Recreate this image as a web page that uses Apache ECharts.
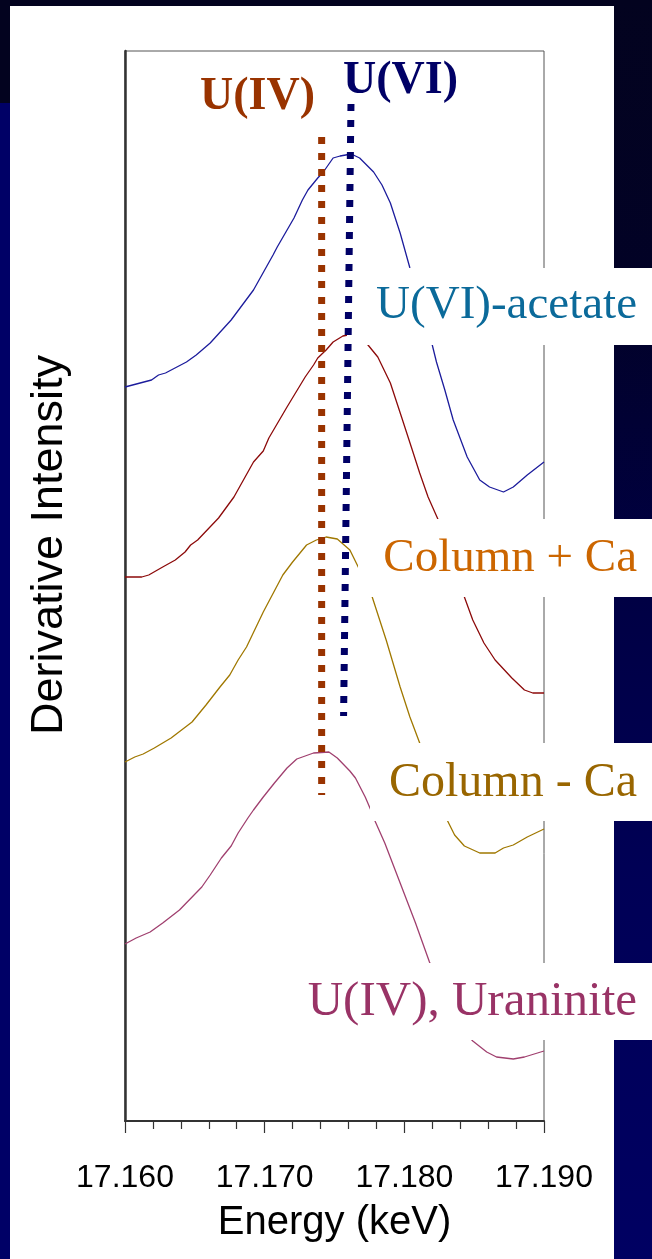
<!DOCTYPE html>
<html>
<head>
<meta charset="utf-8">
<script src="https://cdn.jsdelivr.net/npm/echarts@6/dist/echarts.min.js"></script>
<style>
  html, body { margin: 0; padding: 0; background: #000066; }
  #chart { width: 652px; height: 1259px; }
</style>
</head>
<body>
<div id="chart"></div>
<script>
// ---- Data (energy in keV, derivative intensity in arbitrary offset units) ----
const acetateE = [17.1600,17.1619,17.1624,17.1629,17.1644,17.1651,17.1661,17.1676,17.1692,17.1706,17.1709,17.1721,17.1727,17.1731,17.1738,17.1742,17.1749,17.1754,17.1762,17.1768,17.1778,17.1784,17.1790,17.1797,17.1804,17.1812,17.1820,17.1823,17.1829,17.1835,17.1845,17.1854,17.1861,17.1871,17.1878,17.1888,17.1900];
const acetateI = [7.34,7.41,7.46,7.48,7.59,7.66,7.78,8.01,8.31,8.66,8.74,9.03,9.21,9.31,9.43,9.49,9.63,9.65,9.67,9.63,9.49,9.36,9.18,8.88,8.53,8.16,7.76,7.59,7.31,7.01,6.64,6.41,6.34,6.29,6.34,6.46,6.59];

const colCaE = [17.1600,17.1612,17.1617,17.1627,17.1636,17.1643,17.1647,17.1652,17.1667,17.1678,17.1692,17.1699,17.1703,17.1716,17.1729,17.1735,17.1738,17.1744,17.1749,17.1756,17.1763,17.1774,17.1781,17.1790,17.1798,17.1805,17.1811,17.1817,17.1824,17.1833,17.1843,17.1849,17.1857,17.1865,17.1877,17.1886,17.1892,17.1900];
const colCaI = [5.44,5.44,5.46,5.54,5.61,5.69,5.76,5.81,6.03,6.24,6.59,6.70,6.83,7.14,7.44,7.56,7.63,7.71,7.79,7.85,7.87,7.76,7.64,7.38,7.04,6.74,6.48,6.24,6.02,5.63,5.24,5.01,4.78,4.61,4.43,4.31,4.28,4.28];

const colNoCaE = [17.1600,17.1607,17.1613,17.1621,17.1633,17.1648,17.1658,17.1668,17.1675,17.1681,17.1687,17.1699,17.1713,17.1720,17.1730,17.1737,17.1744,17.1752,17.1761,17.1767,17.1777,17.1787,17.1797,17.1804,17.1811,17.1821,17.1831,17.1836,17.1843,17.1854,17.1865,17.1871,17.1878,17.1888,17.1900];
const colNoCaI = [3.59,3.64,3.67,3.73,3.83,3.99,4.16,4.34,4.46,4.61,4.74,5.09,5.46,5.59,5.76,5.81,5.84,5.82,5.71,5.54,5.24,4.81,4.34,4.04,3.78,3.38,3.00,2.86,2.75,2.68,2.68,2.73,2.76,2.84,2.92];

const uranE = [17.1600,17.1608,17.1618,17.1627,17.1639,17.1655,17.1661,17.1669,17.1676,17.1681,17.1688,17.1692,17.1699,17.1707,17.1716,17.1723,17.1735,17.1746,17.1752,17.1761,17.1765,17.1772,17.1776,17.1779,17.1786,17.1797,17.1808,17.1818,17.1828,17.1838,17.1849,17.1859,17.1866,17.1878,17.1886,17.1900];
const uranI = [1.77,1.83,1.89,1.98,2.11,2.34,2.46,2.63,2.75,2.88,3.03,3.11,3.24,3.38,3.53,3.62,3.68,3.69,3.63,3.50,3.43,3.24,3.11,3.00,2.78,2.38,1.98,1.59,1.26,0.98,0.80,0.69,0.64,0.62,0.64,0.70];

// Reference edge positions (dotted markers)
const u4E = [17.17408, 17.17408];
const u4I = [9.84, 3.26];
const u6E = [17.17618, 17.17565];
const u6I = [10.17, 4.05];

const seriesNames = ['U(VI)-acetate', 'Column + Ca', 'Column - Ca', 'U(IV), Uraninite'];
const markerNames = ['U(IV)', 'U(VI)'];
const xTitle = 'Energy (keV)';
const yTitle = 'Derivative Intensity';

const zip = (a, b) => a.map((v, i) => [v, b[i]]);

const chart = echarts.init(document.getElementById('chart'), null, { renderer: 'canvas' });

const serif = "'Liberation Serif', 'Times New Roman', serif";
const sans = "'Liberation Sans', Arial, sans-serif";

function lineSeries(name, e, v, color) {
  return {
    name, type: 'line', data: zip(e, v), showSymbol: false, symbol: 'none',
    lineStyle: { color, width: 1.3 }, z: 2, silent: true, animation: false
  };
}
function dotSeries(name, e, v, color) {
  return {
    name, type: 'line', data: zip(e, v), showSymbol: false, symbol: 'none',
    lineStyle: { color, width: 7, type: [7, 9], cap: 'butt' }, z: 10, silent: true, animation: false
  };
}

function labelBox(y0, y1, x0) {
  return { type: 'rect', shape: { x: x0, y: y0, width: 652 - x0, height: y1 - y0 }, style: { fill: '#ffffff' }, z: 5, silent: true };
}
function labelText(text, y, color, size, bold, x, align) {
  return { type: 'text', x: x, y: y, z: 12, silent: true,
    style: { text, fill: color, font: (bold ? 'bold ' : '') + size + 'px ' + serif, textAlign: align || 'right', textVerticalAlign: 'middle' } };
}

const option = {
  backgroundColor: '#000066',
  animation: false,
  grid: { left: 125, right: 108, top: 51, bottom: 138, show: true, borderColor: '#555555', borderWidth: 1, backgroundColor: 'transparent' },
  xAxis: {
    type: 'value', min: 17.160, max: 17.190, interval: 0.010,
    name: xTitle, nameLocation: 'middle', nameGap: 82,
    nameTextStyle: { fontFamily: sans, fontSize: 40, color: '#000' },
    axisLine: { show: true, lineStyle: { color: '#333', width: 2 } },
    axisTick: { show: true, length: 12, lineStyle: { color: '#333', width: 1.2 } },
    minorTick: { show: true, splitNumber: 5, length: 8, lineStyle: { color: '#333', width: 1.2 } },
    splitLine: { show: false },
    axisLabel: { fontFamily: sans, fontSize: 32, color: '#000', margin: 41, formatter: v => v.toFixed(3) }
  },
  yAxis: {
    type: 'value', min: 0, max: 10.7,
    axisLine: { show: true, lineStyle: { color: '#333', width: 2.5 } },
    axisTick: { show: false }, axisLabel: { show: false }, splitLine: { show: false }
  },
  graphic: [
    // slide background pieces
    { type: 'rect', shape: { x: 0, y: 0, width: 652, height: 103 }, style: { fill: '#03031f' }, z: -10, silent: true },
    { type: 'rect', shape: { x: 614, y: 0, width: 38, height: 1259 }, silent: true, z: -10,
      style: { fill: new echarts.graphic.LinearGradient(0, 0, 0, 1, [
        { offset: 0, color: '#03031f' }, { offset: 0.22, color: '#020226' },
        { offset: 0.45, color: '#000042' }, { offset: 0.7, color: '#000056' }, { offset: 1, color: '#000062' }]) } },
    { type: 'rect', shape: { x: 10, y: 6, width: 604, height: 1253 }, style: { fill: '#ffffff' }, z: -9, silent: true },
    // label boxes (white, covering curves)
    labelBox(268, 345, 347),
    labelBox(519, 597, 358),
    labelBox(743, 821, 370),
    labelBox(963, 1040, 302),
    labelText(seriesNames[0], 306, '#0b6a9a', 47, false, 637),
    labelText(seriesNames[1], 559, '#cc6600', 47, false, 637),
    labelText(seriesNames[2], 783, '#996600', 48, false, 637),
    labelText(seriesNames[3], 1002, '#993366', 49, false, 637),
    labelText(markerNames[0], 97, '#993300', 46, true, 200, 'left'),
    labelText(markerNames[1], 81, '#000066', 46, true, 343, 'left'),
    { type: 'text', x: 50, y: 545, rotation: Math.PI / 2, z: 12, silent: true,
      style: { text: yTitle, fill: '#000', font: '45px ' + sans, textAlign: 'center', textVerticalAlign: 'middle' } }
  ],
  series: [
    lineSeries(seriesNames[0], acetateE, acetateI, '#1c1c9c'),
    lineSeries(seriesNames[1], colCaE, colCaI, '#8c0a0a'),
    lineSeries(seriesNames[2], colNoCaE, colNoCaI, '#a07800'),
    lineSeries(seriesNames[3], uranE, uranI, '#a0406f'),
    dotSeries(markerNames[0], u4E, u4I, '#993300'),
    dotSeries(markerNames[1], u6E, u6I, '#000066')
  ]
};
chart.setOption(option);
</script>
</body>
</html>
